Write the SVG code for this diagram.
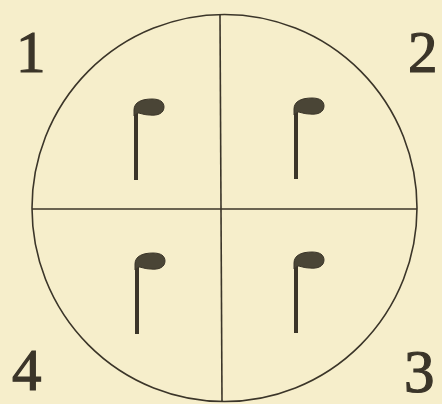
<svg xmlns="http://www.w3.org/2000/svg" width="442" height="404" viewBox="0 0 442 404">
<style>
.ln{fill:none;stroke:#3b3529;stroke-width:1.6}
.stem{fill:none;stroke:#3b3529;stroke-width:4;stroke-linecap:butt}
.head{fill:#4a4536;stroke:#3b3529;stroke-width:1}
.num{font-family:"Liberation Serif",serif;font-size:59px;fill:#3b3529;stroke:#3b3529;stroke-width:1.2}
</style>
<defs>
<g id="note">
<path class="stem" d="M0,4 L0,76"/>
<path class="head" d="M-2,6 C-2,-2 6,-5 16,-5 C24,-5 28,-2 28,3 C28,9 22,12 14,11 C8,11 4,9 2,9 L-2,12 Z"/>
</g>
</defs>
<rect width="442" height="404" fill="#f6eecb"/>
<g id="circle">
<ellipse class="ln" cx="224.5" cy="208" rx="192.5" ry="193.5"/>
</g>
<g id="connectors">
<line class="ln" x1="220" y1="15" x2="222" y2="402"/>
<line class="ln" x1="32" y1="209" x2="417" y2="209"/>
</g>
<g id="notes">
<use href="#note" x="136" y="104"/>
<use href="#note" x="296" y="103"/>
<use href="#note" x="137" y="258"/>
<use href="#note" x="296" y="257"/>
</g>
<g id="labels">
<text class="num" x="16" y="72">1</text>
<text class="num" x="408" y="72">2</text>
<text class="num" x="12" y="390">4</text>
<text class="num" x="404" y="392" style="font-size:61px">3</text>
</g>
</svg>
